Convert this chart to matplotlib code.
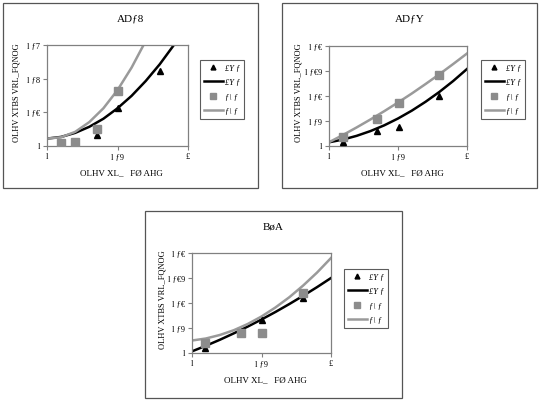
import matplotlib
matplotlib.use("Agg")
import matplotlib.pyplot as plt
from matplotlib.patches import Rectangle
from matplotlib.lines import Line2D

plt.rcParams['font.family'] = ['Liberation Serif', 'DejaVu Serif']

# ---------------- data ----------------
titles = ["ADƒ8", "ADƒY", "BøA"]
ylabel = "OLHV XTBS VRL_FQNOG"
xlabel = "OLHV XL_   FØ AHG"
legend_labels = ["£Y ƒ", "£Y ƒ", "ƒ\\ ƒ", "ƒ\\ ƒ"]
x_ticks = [0.0, 0.5, 1.0]
x_ticklabels = ["l", "l ƒ9", "£"]

p1_yticks = [0.0, 0.1, 0.2, 0.3]
p1_yticklabels = ["l", "l ƒ€", "l ƒ8", "l ƒ7"]
p23_yticks = [0.0, 0.05, 0.1, 0.15, 0.2]
p23_yticklabels = ["l", "l ƒ9", "l ƒ€", "l ƒ€9", "l ƒ€"]

# panel 1
p1_tri_x = [0.355, 0.503, 0.804]
p1_tri_y = [0.033, 0.114, 0.223]
p1_sq_x = [0.10, 0.20, 0.355, 0.503]
p1_sq_y = [0.008, 0.013, 0.050, 0.164]
p1_black_x = [0.0, 0.1, 0.2, 0.3, 0.4, 0.5, 0.6, 0.7, 0.8, 0.9, 1.0]
p1_black_y = [0.022, 0.027, 0.039, 0.057, 0.081, 0.112, 0.149, 0.193, 0.243, 0.300, 0.363]
p1_gray_x = [0.0, 0.1, 0.2, 0.3, 0.4, 0.5, 0.6, 0.7, 0.8]
p1_gray_y = [0.022, 0.026, 0.042, 0.071, 0.112, 0.166, 0.233, 0.312, 0.404]

# panel 2
p2_tri_x = [0.104, 0.351, 0.504, 0.80]
p2_tri_y = [0.0087, 0.031, 0.039, 0.101]
p2_sq_x = [0.104, 0.351, 0.504, 0.80]
p2_sq_y = [0.0188, 0.055, 0.086, 0.142]
p2_black_x = [0.0, 0.1, 0.2, 0.3, 0.4, 0.5, 0.6, 0.7, 0.8, 0.9, 1.0]
p2_black_y = [0.0074, 0.0128, 0.0203, 0.0298, 0.0413, 0.055, 0.0707, 0.0885, 0.1082, 0.130, 0.154]
p2_gray_x = [0.0, 0.1, 0.2, 0.3, 0.4, 0.5, 0.6, 0.7, 0.8, 0.9, 1.0]
p2_gray_y = [0.0075, 0.0219, 0.0371, 0.053, 0.0696, 0.087, 0.105, 0.124, 0.1436, 0.164, 0.185]

# panel 3
p3_tri_x = [0.096, 0.349, 0.501, 0.795]
p3_tri_y = [0.011, 0.041, 0.067, 0.110]
p3_sq_x = [0.096, 0.349, 0.501, 0.795]
p3_sq_y = [0.020, 0.041, 0.041, 0.121]
p3_black_x = [0.0, 0.1, 0.2, 0.3, 0.4, 0.5, 0.6, 0.7, 0.8, 0.9, 1.0]
p3_black_y = [0.0033, 0.0145, 0.0264, 0.0392, 0.0527, 0.067, 0.082, 0.0979, 0.1145, 0.1318, 0.150]
p3_gray_x = [0.0, 0.1, 0.2, 0.3, 0.4, 0.5, 0.6, 0.7, 0.8, 0.9, 1.0]
p3_gray_y = [0.025, 0.029, 0.036, 0.0455, 0.0579, 0.073, 0.091, 0.1115, 0.135, 0.161, 0.190]

# ---------------- layout ----------------
W, H = 543, 401
fig = plt.figure(figsize=(W / 100, H / 100), dpi=100)

def fx(px):
    return px / W

def fy(py):
    return 1 - py / H

GRAY_MARK = "#8c8c8c"
GRAY_LINE = "#9a9a9a"
AXC = "#808080"

panels = [
    dict(border=(3, 3, 258, 188), axes=(47, 45, 188, 146), legend=(200, 60),
         title=titles[0], yticks=p1_yticks, yticklabels=p1_yticklabels, ylim=0.3,
         tri=(p1_tri_x, p1_tri_y), sq=(p1_sq_x, p1_sq_y),
         black=(p1_black_x, p1_black_y), gray=(p1_gray_x, p1_gray_y)),
    dict(border=(282, 3, 537, 188), axes=(329, 46, 467, 146), legend=(481, 60),
         title=titles[1], yticks=p23_yticks, yticklabels=p23_yticklabels, ylim=0.2,
         tri=(p2_tri_x, p2_tri_y), sq=(p2_sq_x, p2_sq_y),
         black=(p2_black_x, p2_black_y), gray=(p2_gray_x, p2_gray_y)),
    dict(border=(145, 211, 402, 398), axes=(192, 253, 331, 353), legend=(344, 269),
         title=titles[2], yticks=p23_yticks, yticklabels=p23_yticklabels, ylim=0.2,
         tri=(p3_tri_x, p3_tri_y), sq=(p3_sq_x, p3_sq_y),
         black=(p3_black_x, p3_black_y), gray=(p3_gray_x, p3_gray_y)),
]

for p in panels:
    bx0, by0, bx1, by1 = p["border"]
    fig.patches.append(Rectangle((fx(bx0), fy(by1)), fx(bx1 - bx0), (by1 - by0) / H,
                                 transform=fig.transFigure, fill=False,
                                 edgecolor="#555555", linewidth=0.9))
    ax0, ay0, ax1, ay1 = p["axes"]
    ax = fig.add_axes([fx(ax0), fy(ay1), fx(ax1 - ax0), (ay1 - ay0) / H])
    ax.set_xlim(0, 1)
    ax.set_ylim(0, p["ylim"])
    for s in ax.spines.values():
        s.set_color(AXC)
        s.set_linewidth(0.9)
    ax.set_xticks(x_ticks)
    ax.set_xticklabels(x_ticklabels, fontsize=6)
    ax.set_yticks(p["yticks"])
    ax.set_yticklabels(p["yticklabels"], fontsize=6)
    ax.tick_params(direction="out", length=3, width=0.8, color=AXC, pad=2)

    ax.plot(*p["tri"], linestyle="none", marker="^", color="black", markersize=4, zorder=3)
    ax.plot(*p["black"], color="black", linewidth=1.8, zorder=2)
    ax.plot(*p["sq"], linestyle="none", marker="s", color=GRAY_MARK, markersize=5.5, zorder=4)
    ax.plot(*p["gray"], color=GRAY_LINE, linewidth=1.8, zorder=2)

    handles = [
        Line2D([], [], linestyle="none", marker="^", color="black", markersize=3.5),
        Line2D([], [], color="black", linewidth=1.8),
        Line2D([], [], linestyle="none", marker="s", color=GRAY_MARK, markersize=5),
        Line2D([], [], color=GRAY_LINE, linewidth=1.8),
    ]
    lx, ly = p["legend"]
    leg = ax.legend(handles, legend_labels, loc="upper left",
                    bbox_to_anchor=(fx(lx), fy(ly)), bbox_transform=fig.transFigure,
                    fontsize=6, frameon=True, fancybox=False, borderpad=0.5,
                    handlelength=2.2, handletextpad=0.3, labelspacing=0.75,
                    borderaxespad=0)
    leg.get_frame().set_edgecolor("#333333")
    leg.get_frame().set_linewidth(0.8)
    for t in leg.get_texts():
        t.set_fontstyle("italic")

    cx = (bx0 + bx1) / 2
    fig.text(fx(cx), fy(by0 + 16), p["title"], ha="center", va="center", fontsize=8)
    fig.text(fx((ax0 + ax1) / 2 + 4), fy(ay1 + 27), xlabel, ha="center", va="center", fontsize=6.5)
    fig.text(fx(ax0 - 30), fy((ay0 + ay1) / 2 - 3), ylabel, ha="center", va="center",
             rotation=90, fontsize=6)

fig.savefig("out.png", dpi=100)
